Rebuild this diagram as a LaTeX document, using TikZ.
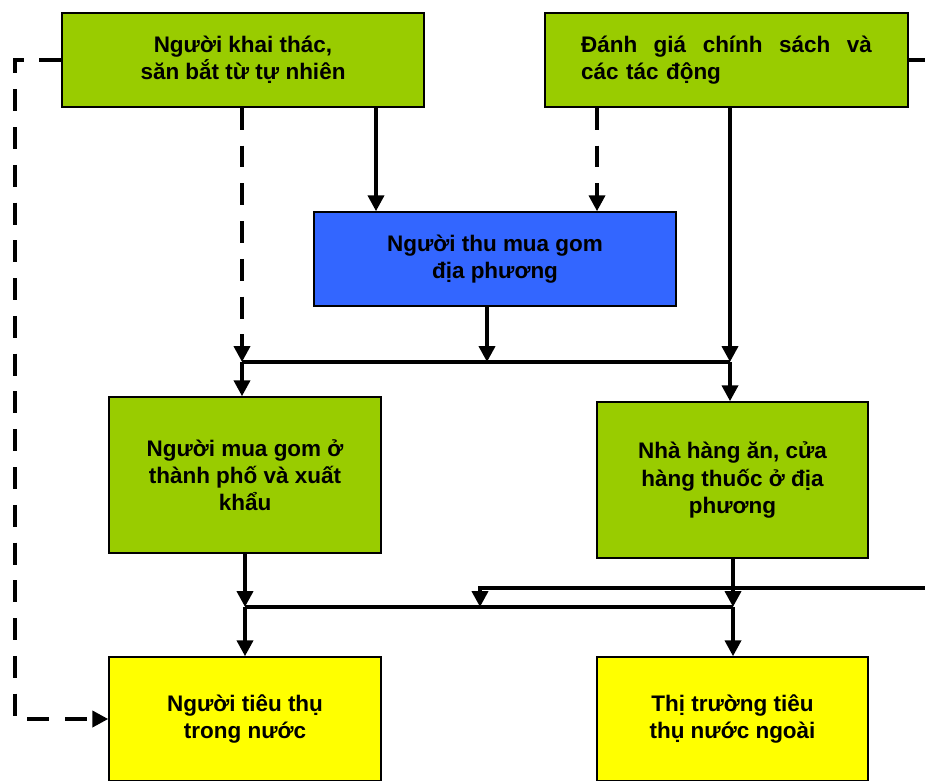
\documentclass[tikz,border=0pt]{standalone}
\usepackage{fontspec}
\setmainfont{Liberation Sans}
\usetikzlibrary{arrows.meta, positioning, calc}

\definecolor{cgreen}{HTML}{99CC00}
\definecolor{cblue}{HTML}{3366FF}
\definecolor{cyellow}{HTML}{FFFF00}

\tikzset{
  box/.style={draw, line width=0.85pt, align=center, inner sep=2pt,
    font=\fontsize{12.8pt}{15.4pt}\selectfont\bfseries},
  flow/.style={line width=2.2pt},
  dashline/.style={flow, dash pattern=on 12.5pt off 9pt},
}

\begin{document}
\begin{tikzpicture}[x=0.02cm, y=-0.02cm, >={Triangle[length=9pt,width=9pt]}]

\useasboundingbox (0,0) rectangle (925,780);
\clip (0,0) rectangle (925,780);

% hang tren
\node[box, fill=cgreen, minimum width=7.24cm, minimum height=1.88cm] (khaithac) at (243,60)
  {Người khai thác,\\săn bắt từ tự nhiên};
\node[box, fill=cgreen, minimum width=7.26cm, minimum height=1.88cm, align=left, text width=5.82cm] (danhgia) at (726.5,60)
  {Đánh\hfill giá\hfill chính\hfill sách\hfill và\\các tác động};

% thu mua
\node[box, fill=cblue, minimum width=7.24cm, minimum height=1.88cm] (thumua) at (495,259)
  {Người thu mua gom\\địa phương};

% hang giua
\node[box, fill=cgreen, minimum width=5.44cm, minimum height=3.12cm] (muagom) at (245,475)
  {Người mua gom ở\\thành phố và xuất\\khẩu};
\node[box, fill=cgreen, minimum width=5.42cm, minimum height=3.12cm] (nhahang) at (732.5,480)
  {Nhà hàng ăn, cửa\\hàng thuốc ở địa\\phương};

% tieu thu
\node[box, fill=cyellow, minimum width=5.44cm, minimum height=2.48cm] (tieuthu) at (245,719)
  {Người tiêu thụ\\trong nước};
\node[box, fill=cyellow, minimum width=5.42cm, minimum height=2.48cm] (thitruong) at (732.5,719)
  {Thị trường tiêu\\thụ nước ngoài};

% diem noi
\coordinate (c1) at (376,0);
\coordinate (c2) at (597,0);
\coordinate (j1) at (242,362);
\coordinate (j2) at (487,362);
\coordinate (j3) at (730,362);
\coordinate (k1) at (245,607);
\coordinate (k2) at (480,607);
\coordinate (k3) at (733,607);
\coordinate (lft) at (15,60);
\coordinate (rtop) at (935,60);
\coordinate (redge) at (935,588);

\draw[dashline,->] (khaithac.south -| j1) -- (j1);
\draw[flow,->] (khaithac.south -| c1) -- (thumua.north -| c1);
\draw[dashline,->] (danhgia.south -| c2) -- (thumua.north -| c2);
\draw[flow,->] (danhgia.south -| j3) -- (j3);
\draw[flow,->] (thumua.south -| j2) -- (j2);
\draw[flow] (j1) -- (j3);
\draw[flow,->] (j1) -- (muagom.north -| j1);
\draw[flow,->] (j3) -- (nhahang.north -| j3);

\draw[flow,->] (muagom.south -| k1) -- (k1);
\draw[flow,->] (nhahang.south -| k3) -- (k3);
\draw[flow] (k1) -- (k3);
\draw[flow,->] (k1) -- (tieuthu.north -| k1);
\draw[flow,->] (k3) -- (thitruong.north -| k3);
\draw[flow,->] (redge) -| (k2);

\draw[flow] (danhgia.east) -- (rtop);
\draw[dashline,->] (khaithac.west) -- (lft) |- (tieuthu.west);

\end{tikzpicture}
\end{document}
